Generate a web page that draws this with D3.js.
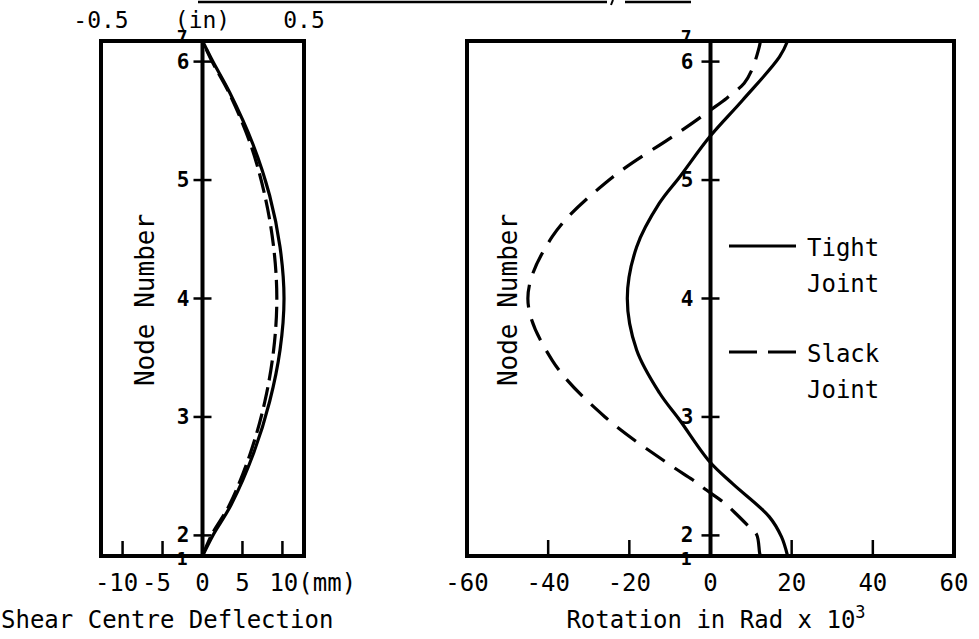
<!DOCTYPE html>
<html>
<head>
<meta charset="utf-8">
<script src="https://cdn.jsdelivr.net/npm/d3@7"></script>
<style>
  body { margin: 0; background: #fff; }
</style>
</head>
<body>
<svg id="chart"></svg>
<script>
// node positions along the member (fraction of length) and their numbers
var nodePos = [0, 0.04, 0.27, 0.5, 0.73, 0.96, 1]
var nodeLabels = ["1", "2", "3", "4", "5", "6", "7"]

// shear centre deflection, mm
var deflPos = [0, 0.04, 0.1, 0.2, 0.3, 0.4, 0.5, 0.6, 0.7, 0.8, 0.9, 0.96, 1]
var deflTight = [0, 1.3, 3.6, 6.4, 8.4, 9.7, 10.2, 9.7, 8.4, 6.3, 3.4, 1.3, 0]
var deflSlack = [0, 1.1, 3.4, 6.0, 7.8, 8.9, 9.3, 8.9, 7.8, 6.0, 3.3, 1.2, 0]

// rotation, rad x 10^3
var rotPosTight = [0, 0.037, 0.076, 0.14, 0.183, 0.264, 0.317, 0.4, 0.5, 0.6, 0.685, 0.736, 0.814, 0.885, 0.969, 1]
var rotTight = [19, 17.5, 14.5, 5.5, -0.2, -7.6, -12.6, -18.2, -20.5, -18.2, -12.6, -7.6, -0.2, 7.9, 17, 19]
var rotPosSlack = [0, 0.006, 0.041, 0.056, 0.085, 0.103, 0.128, 0.148, 0.177, 0.27, 0.38, 0.5, 0.62, 0.73, 0.814, 0.841, 0.866, 0.889, 0.918, 0.944, 0.988, 1]
var rotSlack = [12.3, 12.1, 11.4, 9.6, 5.9, 3.4, -1, -4.4, -10, -26, -39, -45, -39, -25, -9.4, -4.4, 0, 4, 8.3, 10.2, 12, 12.3]

// axis ticks and labels
var inchLabels = ["-0.5", "(in)", "0.5"]
var inchValues = [-0.5, 0, 0.5]
var mmTicks = [-10, -5, 5, 10]
var mmLabels = [-10, -5, 0, 5, 10]
var rotTicks = [-40, -20, 20, 40]
var rotLabels = [-60, -40, -20, 0, 20, 40, 60]

var legendNames = [["Tight", "Joint"], ["Slack", "Joint"]]

var W = 979, H = 639
var font = "'DejaVu Sans Mono', monospace"

var svg = d3.select("#chart")
  .attr("width", W)
  .attr("height", H)
  .style("font-family", font)

var y = d3.scaleLinear().domain([0, 1]).range([556, 41])
var xIn = d3.scaleLinear().domain([-0.5, 0.5]).range([101, 304])
var xMm = d3.scaleLinear().domain([-12.7, 12.7]).range([101, 304])
var xRot = d3.scaleLinear().domain([-60, 60]).range([467, 954])

// remnants of underlined text cut at the top edge
svg.append("line").attr("x1", 198).attr("x2", 607).attr("y1", 2).attr("y2", 2)
  .attr("stroke", "#000").attr("stroke-width", 2.5)
svg.append("line").attr("x1", 625).attr("x2", 691).attr("y1", 2).attr("y2", 2)
  .attr("stroke", "#000").attr("stroke-width", 2.5)
svg.append("line").attr("x1", 613).attr("x2", 611).attr("y1", 0).attr("y2", 5)
  .attr("stroke", "#000").attr("stroke-width", 2)

function drawFrame(x, labelGap) {
  var g = svg.append("g")
  var x0 = x(0), xr = x.range()

  g.append("rect")
    .attr("x", xr[0]).attr("y", y(1))
    .attr("width", xr[1] - xr[0]).attr("height", y(0) - y(1))
    .attr("fill", "none").attr("stroke", "#000").attr("stroke-width", 4)

  g.append("line")
    .attr("x1", x0).attr("x2", x0).attr("y1", y(1)).attr("y2", y(0))
    .attr("stroke", "#000").attr("stroke-width", 4)

  // node ticks across the zero line (not at the ends)
  g.selectAll("line.ntick")
    .data(nodePos.slice(1, -1))
    .enter().append("line")
    .attr("class", "ntick")
    .attr("x1", x0 - 9).attr("x2", x0 + 9)
    .attr("y1", function (d) { return y(d) })
    .attr("y2", function (d) { return y(d) })
    .attr("stroke", "#000").attr("stroke-width", 2.5)

  g.selectAll("text.nlab")
    .data(nodePos)
    .enter().append("text")
    .attr("class", "nlab")
    .attr("x", function (d, i) { return x0 - labelGap - (i == 0 || i == 6 ? 2 : 0) })
    .attr("y", function (d, i) { return y(d) + (i == 6 ? -5 : (i == 0 ? 2 : 0)) })
    .attr("text-anchor", "end")
    .attr("dominant-baseline", "central")
    .attr("font-size", function (d, i) { return i == 0 || i == 6 ? 18 : 21 })
    .attr("font-weight", "bold")
    .text(function (d, i) { return nodeLabels[i] })
  return g
}

function drawCurve(x, pos, vals, dash) {
  var pts = pos.map(function (p, i) { return [vals[i], p] })
  var line = d3.line()
    .x(function (d) { return x(d[0]) })
    .y(function (d) { return y(d[1]) })
    .curve(d3.curveCatmullRom.alpha(0.5))
  svg.append("path")
    .datum(pts)
    .attr("d", line)
    .attr("fill", "none")
    .attr("stroke", "#000")
    .attr("stroke-width", 3.2)
    .attr("stroke-dasharray", dash || null)
}

// ---- left panel: shear centre deflection
var left = drawFrame(xIn, 13)

left.selectAll("line.btick")
  .data(mmTicks)
  .enter().append("line")
  .attr("x1", function (d) { return xMm(d) })
  .attr("x2", function (d) { return xMm(d) })
  .attr("y1", y(0)).attr("y2", y(0) - 15)
  .attr("stroke", "#000").attr("stroke-width", 2.5)

svg.selectAll("text.inlab")
  .data(inchValues)
  .enter().append("text")
  .attr("x", function (d) { return xIn(d) })
  .attr("y", 28)
  .attr("text-anchor", "middle")
  .attr("font-size", 23)
  .text(function (d, i) { return inchLabels[i] })

svg.selectAll("text.mmlab")
  .data(mmLabels)
  .enter().append("text")
  .attr("x", function (d) { return xMm(d) })
  .attr("y", 591)
  .attr("text-anchor", function (d) { return d == 10 ? "start" : "middle" })
  .attr("dx", function (d) { return d == 10 ? -13 : (d < 0 ? -6 : 0) })
  .attr("font-size", 24)
  .text(function (d) { return d == 10 ? "10(mm)" : String(d) })

svg.append("text")
  .attr("x", 1).attr("y", 628)
  .attr("font-size", 24)
  .text("Shear Centre Deflection")

svg.append("text")
  .attr("transform", "translate(154,300) rotate(-90)")
  .attr("text-anchor", "middle")
  .attr("font-size", 26)
  .text("Node Number")

drawCurve(xMm, deflPos, deflTight)
drawCurve(xMm, deflPos, deflSlack, "20,7")

// ---- right panel: rotation
var right = drawFrame(xRot, 17)

right.selectAll("line.btick")
  .data(rotTicks)
  .enter().append("line")
  .attr("x1", function (d) { return xRot(d) })
  .attr("x2", function (d) { return xRot(d) })
  .attr("y1", y(0)).attr("y2", y(0) - 16)
  .attr("stroke", "#000").attr("stroke-width", 2.5)

svg.selectAll("text.rotlab")
  .data(rotLabels)
  .enter().append("text")
  .attr("x", function (d) { return xRot(d) })
  .attr("y", 591)
  .attr("text-anchor", "middle")
  .attr("font-size", 24)
  .text(function (d) { return String(d) })

var rt = svg.append("text")
  .attr("x", 716).attr("y", 628)
  .attr("text-anchor", "middle")
  .attr("font-size", 24)
rt.append("tspan").text("Rotation in Rad x 10")
rt.append("tspan").attr("dy", -10).attr("font-size", 17).text("3")

svg.append("text")
  .attr("transform", "translate(517,300) rotate(-90)")
  .attr("text-anchor", "middle")
  .attr("font-size", 26)
  .text("Node Number")

drawCurve(xRot, rotPosTight, rotTight)
drawCurve(xRot, rotPosSlack, rotSlack, "23,12")

// legend
var legY = [246, 352]
var legDash = [null, "28,11"]
legY.forEach(function (ly, i) {
  svg.append("line")
    .attr("x1", 729).attr("x2", 796).attr("y1", ly).attr("y2", ly)
    .attr("stroke", "#000").attr("stroke-width", 3.2)
    .attr("stroke-dasharray", legDash[i])
  svg.append("text")
    .attr("x", 807).attr("y", ly + 10)
    .attr("font-size", 24)
    .text(legendNames[i][0])
  svg.append("text")
    .attr("x", 807).attr("y", ly + 46)
    .attr("font-size", 24)
    .text(legendNames[i][1])
})
</script>
</body>
</html>
